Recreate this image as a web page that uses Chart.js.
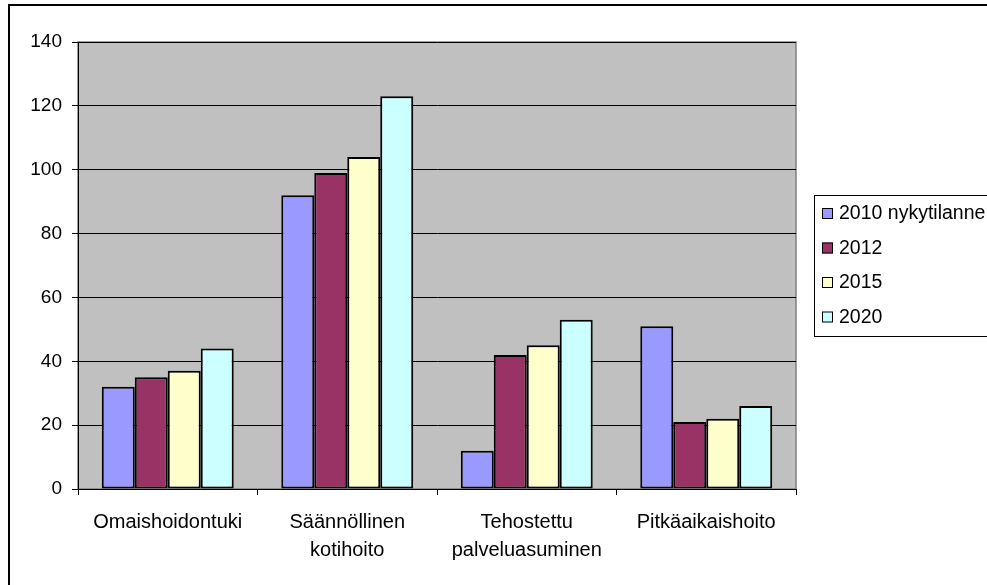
<!DOCTYPE html>
<html>
<head>
<meta charset="utf-8">
<script src="https://cdn.jsdelivr.net/npm/chart.js@4/dist/chart.umd.min.js"></script>
<style>
	html, body { margin: 0; padding: 0; background: #fff; overflow: hidden; }
	#wrap { position: relative; width: 987px; height: 585px; }
	#frame { position: absolute; left: 8px; top: 4px; width: 990px; height: 600px; border-left: 2px solid #000; border-top: 2px solid #000; }
	canvas { position: absolute; left: 0; top: 0; }
</style>
</head>
<body>
<div id="wrap">
	<div id="frame"></div>
	<canvas id="myChart" width="987" height="585"></canvas>
</div>
<script>
var categories = ['Omaishoidontuki', ['Säännöllinen', 'kotihoito'], ['Tehostettu', 'palveluasuminen'], 'Pitkäaikaishoito'];
var seriesNames = ['2010 nykytilanne', '2012', '2015', '2020'];
var values2010 = [32, 92, 12, 51];
var values2012 = [35, 99, 42, 21];
var values2015 = [37, 104, 45, 22];
var values2020 = [44, 123, 53, 26];
var yTicks = [0, 20, 40, 60, 80, 100, 120, 140];
var colors = ['#9999FF', '#993366', '#FFFFCC', '#CCFFFF'];

var font = 'Arial, "Liberation Sans", sans-serif';

// grey plot area like the old Excel charts
var plotBg = {
	id: 'plotBg',
	beforeDraw: function(chart){
		var a = chart.chartArea, c = chart.ctx;
		c.save();
		c.fillStyle = '#C0C0C0';
		c.fillRect(a.left, a.top, a.right - a.left, a.bottom - a.top);
		c.strokeStyle = '#808080';
		c.lineWidth = 1.5;
		c.strokeRect(a.left, a.top, a.right - a.left, a.bottom - a.top);
		c.restore();
	}
};

// legend box on the right, clipped by the window
var sideLegend = {
	id: 'sideLegend',
	afterDraw: function(chart){
		var c = chart.ctx;
		var x = 814, y = 195, rowH = 34.5;
		c.save();
		c.fillStyle = '#fff';
		c.fillRect(x, y, 200, 141);
		c.strokeStyle = '#000';
		c.lineWidth = 1;
		c.strokeRect(x + 0.5, y + 0.5, 200, 141);
		c.font = '19.5px ' + font;
		c.textBaseline = 'middle';
		chart.data.datasets.forEach(function(ds, i){
			var cy = 213 + i * rowH;
			c.fillStyle = ds.backgroundColor;
			c.fillRect(822, cy - 5, 11, 11);
			c.strokeStyle = '#000';
			c.strokeRect(822.5, cy - 4.5, 10, 10);
			c.fillStyle = '#000';
			c.fillText(ds.label, 839, cy + 1);
		});
		c.restore();
	}
};

var allValues = [values2010, values2012, values2015, values2020];
var datasets = seriesNames.map(function(name, i){
	return {
		label: name,
		data: allValues[i],
		backgroundColor: colors[i],
		borderColor: '#000',
		borderWidth: 2,
		borderSkipped: false,
		categoryPercentage: 0.735,
		barPercentage: 1
	};
});

var ctx = document.getElementById('myChart');
var myChart = new Chart(ctx, {
	type: 'bar',
	data: {
		labels: categories,
		datasets: datasets
	},
	options: {
		responsive: false,
		animation: false,
		events: [],
		layout: { padding: { left: 8, top: 42, right: 191, bottom: 6 } },
		plugins: {
			legend: { display: false },
			tooltip: { enabled: false }
		},
		scales: {
			x: {
				afterFit: function(s){ s.height = 90; },
				grid: { offset: true, drawOnChartArea: false, color: '#000', tickLength: 6, tickColor: '#000' },
				border: { color: '#000', width: 1 },
				ticks: { color: '#000', font: { family: font, size: 20, lineHeight: 1.38 }, padding: 14, maxRotation: 0, autoSkip: false }
			},
			y: {
				min: 0,
				max: 140,
				afterFit: function(s){ s.width = 70; },
				afterBuildTicks: function(s){ s.ticks = yTicks.map(function(v){ return { value: v }; }); },
				grid: { color: '#000', lineWidth: 1, tickLength: 6, tickColor: '#000' },
				border: { color: '#000', width: 1 },
				ticks: { color: '#000', font: { family: font, size: 19 }, padding: 10 }
			}
		}
	},
	plugins: [plotBg, sideLegend]
});
</script>
</body>
</html>
